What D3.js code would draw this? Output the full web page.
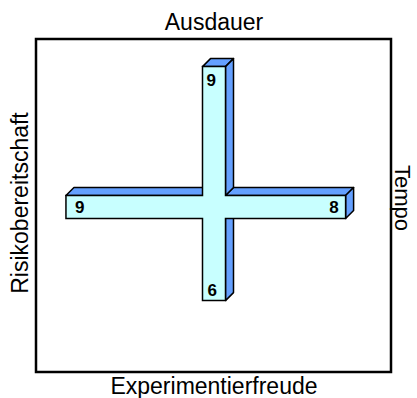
<!DOCTYPE html>
<html>
<head>
<meta charset="utf-8">
<script src="https://cdn.jsdelivr.net/npm/d3@7"></script>
<style>
  body { margin: 0; background: #fff; }
  text { font-family: "Liberation Sans", Arial, sans-serif; }
</style>
</head>
<body>
<div id="chart"></div>
<script>
// axis names (top, right, bottom, left)
const axisNames = ["Ausdauer", "Tempo", "Experimentierfreude", "Risikobereitschaft"];
// values per arm of the cross
const armValues = [9, 8, 6, 9];

const width = 417, height = 398;
const depth = 8;          // 3d offset
const half = 11.5;        // half width of a bar

let svg = d3.select("#chart")
    .append("svg")
    .attr("width", width)
    .attr("height", height);

// scales: center of the cross is 0
let x = d3.scaleLinear().domain([-10, 10]).range([214 - 164.5, 214 + 164.5]);
let y = d3.scaleLinear().domain([-10, 10]).range([207 + 156, 207 - 156]);

// frame
svg.append("rect")
    .attr("x", 36)
    .attr("y", 39)
    .attr("width", 355)
    .attr("height", 333)
    .attr("fill", "none")
    .attr("stroke", "#000")
    .attr("stroke-width", 2.5);

const T = y(armValues[0]), R = x(armValues[1]), B = y(-armValues[2]), L = x(-armValues[3]);
const vx1 = x(0) - half, vx2 = x(0) + half;
const hy1 = y(0) - half, hy2 = y(0) + half;

// edges facing up or right get a 3d face
let faces = [
    [[vx1, T], [vx2, T]],
    [[L, hy1], [vx1, hy1]],
    [[vx2, hy1], [R, hy1]],
    [[vx2, T], [vx2, hy1]],
    [[R, hy1], [R, hy2]],
    [[vx2, hy2], [vx2, B]]
];

svg.selectAll(".face")
    .data(faces)
    .join("path")
    .attr("class", "face")
    .attr("d", d => "M" + d[0] + "L" + d[1] + "L" + [d[1][0] + depth, d[1][1] - depth] +
        "L" + [d[0][0] + depth, d[0][1] - depth] + "Z")
    .attr("fill", "#64a0ff")
    .attr("stroke", "#000")
    .attr("stroke-width", 1.5)
    .attr("stroke-linejoin", "round");

// front of the cross
let front = [[vx1, T], [vx2, T], [vx2, hy1], [R, hy1], [R, hy2], [vx2, hy2], [vx2, B], [vx1, B],
    [vx1, hy2], [L, hy2], [L, hy1], [vx1, hy1]];
svg.append("path")
    .attr("d", d3.line()(front) + "Z")
    .attr("fill", "#c8ffff")
    .attr("stroke", "#000")
    .attr("stroke-width", 1.5);

// value labels
let labels = [
    { t: armValues[0], x: vx1 + 4, y: T + 19, a: "start" },
    { t: armValues[1], x: R - 7, y: y(0) + 6, a: "end" },
    { t: armValues[2], x: vx1 + 5, y: B - 5, a: "start" },
    { t: armValues[3], x: L + 9, y: y(0) + 6, a: "start" }
];
svg.selectAll(".val")
    .data(labels)
    .join("text")
    .attr("class", "val")
    .attr("x", d => d.x)
    .attr("y", d => d.y)
    .attr("text-anchor", d => d.a)
    .attr("font-size", 17)
    .attr("font-weight", "bold")
    .text(d => d.t);

// axis names
svg.append("text")
    .attr("x", 214).attr("y", 29.5)
    .attr("text-anchor", "middle")
    .attr("font-size", 23)
    .text(axisNames[0]);
svg.append("text")
    .attr("transform", "translate(395,198) rotate(90)")
    .attr("text-anchor", "middle")
    .attr("font-size", 22)
    .text(axisNames[1]);
svg.append("text")
    .attr("x", 214).attr("y", 394)
    .attr("text-anchor", "middle")
    .attr("font-size", 23)
    .text(axisNames[2]);
svg.append("text")
    .attr("transform", "translate(28,203) rotate(-90)")
    .attr("text-anchor", "middle")
    .attr("font-size", 23)
    .text(axisNames[3]);
</script>
</body>
</html>
